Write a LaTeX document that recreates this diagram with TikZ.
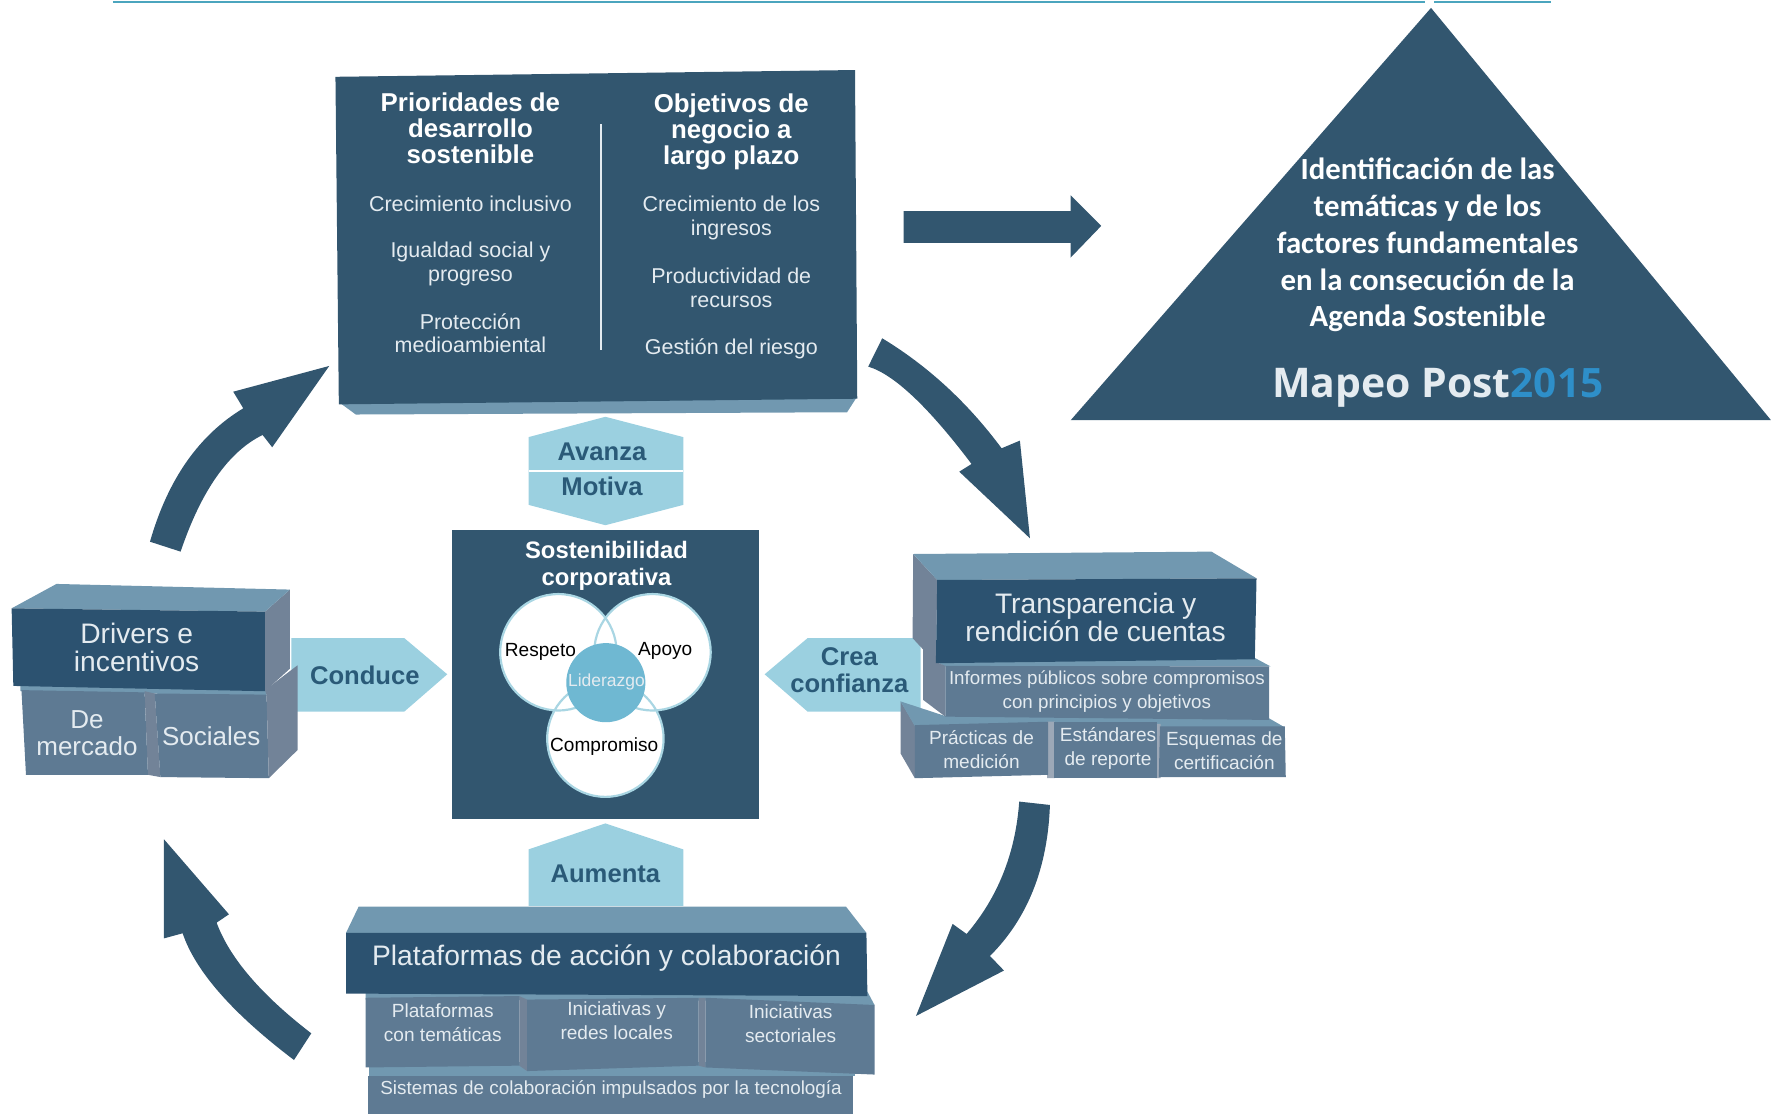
\documentclass[tikz,border=0pt]{standalone}
\usepackage{fontspec}
\setmainfont{Liberation Sans}
\newfontfamily\carl{Carlito}
\newfontfamily\opens{Open Sans}
\definecolor{navy}{HTML}{32566F}
\definecolor{deep}{HTML}{2C5270}
\definecolor{topf}{HTML}{7198B0}
\definecolor{side}{HTML}{728398}
\definecolor{lite}{HTML}{5E7A93}
\definecolor{sky}{HTML}{9BD0E0}
\definecolor{ink}{HTML}{2A5A78}
\definecolor{rim}{HTML}{A9D6E3}
\definecolor{hub}{HTML}{6FB8D2}
\definecolor{paletxt}{HTML}{E4EBF0}
\definecolor{teal}{HTML}{4BA5BE}
\definecolor{blue15}{HTML}{2E8FC9}
\tikzset{
  x=0.01cm,y=-0.01cm,
  txt/.style={inner sep=0pt,align=center,text=paletxt},
  body/.style={txt,font=\fontsize{5.4}{6}\selectfont},
  head/.style={txt,text=white,font=\fontsize{6.5}{6.5}\selectfont\bfseries},
  big/.style={txt,font=\fontsize{7.1}{7.1}\selectfont},
  mid/.style={txt,font=\fontsize{6.55}{6.8}\selectfont},
  small/.style={txt,font=\fontsize{4.8}{6}\selectfont},
  verb/.style={inner sep=0pt,align=center,text=ink,font=\fontsize{6.45}{6.7}\selectfont\bfseries},
  ring/.style={inner sep=0pt,text=black,font=\fontsize{4.8}{5}\selectfont},
  tri/.style={inner sep=0pt,align=center,text=white,font=\carl\fontsize{7.75}{9.25}\selectfont\bfseries},
}
\begin{document}
\begin{tikzpicture}
\useasboundingbox (0,0) rectangle (1568,986.3);
% top rule
\draw[teal,line width=0.55pt] (100,2) -- (1262,2) (1270,2) -- (1373,2);
% triangle
\fill[navy] (1267,7) -- (1568,372) -- (948,372) -- cycle;
\node[tri] (goal) at (1264,217) {Identificación de las\\temáticas y de los\\factores fundamentales\\en la consecución de la\\Agenda Sostenible};
\node[inner sep=0pt,text=paletxt,font=\opens\fontsize{10.3}{11}\selectfont\bfseries] (logo) at (1273,343) {Mapeo Post{\color{blue15}\fontsize{10.2}{11}\selectfont 2015}};
% straight block arrow
\fill[navy] (800,187) -- (948,187) -- (948,173) -- (975,200) -- (948,228) -- (948,215) -- (800,215) -- cycle;
% top box
\fill[topf] (300,356) -- (315,367) -- (750,365) -- (759,351) -- cycle;
\fill[navy] (297,68) -- (757,62) -- (759,353) -- (300,358) -- cycle;
\draw[paletxt,line width=0.35pt] (532,110) -- (532,310);
\node[head] (h1) at (416.5,113.5) {Prioridades de\\desarrollo\\sostenible};
\node[head] (h2) at (647.5,117) {Objetivos de\\negocio a\\largo plazo};
\node[body] (a1) at (416.5,180.5) {Crecimiento inclusivo};
\node[body] (a2) at (416.5,234) {Igualdad social y\\progreso};
\node[body] (a3) at (416.5,295) {Protección\\medioambiental};
\node[body] (b1) at (647.5,193) {Crecimiento de los\\ingresos};
\node[body] (b2) at (647.5,254.5) {Productividad de\\recursos};
\node[body] (b3) at (647.5,308.5) {Gestión del riesgo};
% hexagon
\fill[sky] (536,369) -- (605,387) -- (605,447) -- (536,465) -- (468,447) -- (468,387) -- cycle;
\draw[white,line width=0.35pt] (468,417) -- (605,417);
\node[verb] (av) at (533,400) {Avanza};
\node[verb] (mo) at (533,431) {Motiva};
% centre box
\fill[navy] (400,469) rectangle (672,725);
\node[txt,text=white,font=\fontsize{6.0}{6.6}\selectfont\bfseries] (sc) at (537,501) {Sostenibilidad\\corporativa};
\fill[white] (494.4,577.5) circle[radius=0.515cm] (577.7,577.5) circle[radius=0.515cm] (536,654) circle[radius=0.515cm];
\draw[rim,line width=0.55pt] (494.4,577.5) circle[radius=0.515cm] (577.7,577.5) circle[radius=0.515cm] (536,654) circle[radius=0.515cm];
\fill[hub] (536.4,604.4) circle[radius=0.35cm];
\node[ring] (r) at (478.5,577) {Respeto};
\node[ring] (ap) at (589,576) {Apoyo};
\node[ring] (co) at (535,661) {Compromiso};
\node[ring,text=paletxt,font=\fontsize{4.4}{5}\selectfont] (li) at (537,604) {Liderazgo};
% Conduce
\fill[sky] (258,565) -- (358,565) -- (396,597) -- (358,630) -- (258,630) -- cycle;
\node[verb] (cd) at (323,598) {Conduce};
% Crea confianza
\fill[sky] (815,565) -- (715,565) -- (677,597) -- (715,630) -- (815,630) -- cycle;
\node[verb] (cc) at (752,593.5) {Crea\\confianza};
% Aumenta
\fill[sky] (468,802) -- (468,752) -- (536,729) -- (605,752) -- (605,802) -- cycle;
\node[verb] (au) at (536,774) {Aumenta};
% Drivers block
\fill[topf] (18,606) -- (236,610) -- (236,616) -- (18,612) -- cycle;
\fill[side] (128,612) -- (137,614) -- (142,688) -- (131,686) -- cycle;
\fill[lite] (19,611) -- (128,613) -- (131,686) -- (23,686) -- cycle;
\fill[lite] (137,614) -- (236,615) -- (238,689) -- (142,688) -- cycle;
\fill[side] (234.6,611) -- (263.5,589) -- (263.5,664) -- (238,689) -- (236,615) -- cycle;
\fill[side] (234.6,541.5) -- (256.7,522) -- (256.7,592) -- (234.6,612) -- cycle;
\fill[topf] (10.3,538.6) -- (50,517) -- (256.7,522) -- (234.6,541.5) -- cycle;
\fill[deep] (10.3,538.6) -- (234.6,541.5) -- (234.6,612) -- (11.8,607.3) -- cycle;
\node[big] (dr) at (121,573.5) {Drivers e\\incentivos};
\node[mid] (dm) at (77,649) {De\\mercado};
\node[mid] (so) at (187,652) {Sociales};
% Transparency block
\fill[side] (797.3,621) -- (810,642) -- (810,689) -- (797.3,667) -- cycle;
\fill[topf] (797.3,621) -- (837,634) -- (1123.7,636) -- (1137.5,644) -- (810,643) -- cycle;
\fill[side!70!white] (927,639) rectangle (934,689) (1023,641) rectangle (1027.5,689);
\fill[lite] (810,642) -- (928,639) -- (928,686) -- (810,689) -- cycle;
\fill[lite] (933,639) -- (1024,639) -- (1024,689) -- (933,689) -- cycle;
\fill[lite] (1027,643) -- (1137.5,643) -- (1138.4,688) -- (1026,688) -- cycle;
\fill[topf] (828.6,586) -- (1111,582.5) -- (1124.9,590) -- (837,590) -- cycle;
\fill[side] (817.4,572.5) -- (828.6,586) -- (837,589.6) -- (837,634.5) -- (817.4,619.7) -- cycle;
\fill[lite] (837,589.6) -- (1123.7,590) -- (1123.7,637.4) -- (837,634.5) -- cycle;
\fill[side] (808.5,490.5) -- (829.8,513.5) -- (828.6,587.2) -- (808,565) -- cycle;
\fill[topf] (808.5,490.5) -- (1072.6,488.4) -- (1112.5,512) -- (829.8,513.5) -- cycle;
\fill[deep] (829.8,513.5) -- (1112.5,512) -- (1111,583.7) -- (828.6,587.2) -- cycle;
\node[big] (tr) at (970,546.5) {Transparencia y\\rendición de cuentas};
\node[small,font=\fontsize{4.72}{6}\selectfont] (in) at (980,612) {Informes públicos sobre compromisos\\con principios y objetivos};
\node[small] (pr) at (869,663.5) {Prácticas de\\medición};
\node[small] (es) at (981,663) {Estándares\\de reporte};
\node[small] (eq) at (1084,664.5) {Esquemas de\\certificación};
% Platforms block
\fill[topf] (306.4,825.9) -- (317.5,802.8) -- (749.1,802.8) -- (767.1,825.9) -- cycle;
\fill[topf] (327,940) rectangle (757,953);
\fill[lite] (325.4,952.4) -- (755.4,952.4) -- (755.4,986.3) -- (325.4,986.3) -- cycle;
\fill[topf] (323.8,878) -- (768,878) -- (774.4,890) -- (624,886) -- (323.8,885) -- cycle;
\fill[side] (459.8,881.9) -- (466.7,885) -- (466.7,948.3) -- (459.8,943.5) -- cycle;
\fill[side] (618.5,883.4) -- (624.8,883.4) -- (624.8,945.1) -- (618.5,943.5) -- cycle;
\fill[lite] (323.8,883.4) -- (459.8,881.9) -- (459.8,943.5) -- (323.8,945.1) -- cycle;
\fill[lite] (466.7,885) -- (618.5,883.4) -- (618.5,943.5) -- (466.7,948.3) -- cycle;
\fill[lite] (624.8,883.4) -- (774.4,889.8) -- (774.4,951.4) -- (624.8,945.1) -- cycle;
\fill[deep] (306.4,825.9) -- (767.1,825.9) -- (768,881.9) -- (306.4,879.7) -- cycle;
\node[big] (pl) at (537,848) {Plataformas de acción y colaboración};
\node[small] (p1) at (392,905.5) {Plataformas\\con temáticas};
\node[small] (p2) at (546,903.5) {Iniciativas y\\redes locales};
\node[small] (p3) at (700,906) {Iniciativas\\sectoriales};
\node[small,font=\fontsize{4.75}{6}\selectfont] (p4) at (541,964.5) {Sistemas de colaboración impulsados por la tecnología};
% curved arrows
\fill[navy] (781.1,299.5) .. controls (821.7,324.1) and (856.9,356.6) .. (886.8,396.9) -- (903,390.1) -- (911.9,476.6) -- (849.3,417.6) -- (860.2,410.8) .. controls (821.9,360.1) and (791.4,331.3) .. (768.7,324.6) -- cycle;
\fill[navy] (929.6,712.7) .. controls (927.6,768.5) and (909.9,813.1) .. (876.5,846.4) -- (888.9,859.3) -- (811,899.5) -- (843.4,818) -- (855.8,826.9) .. controls (883.6,794.4) and (899.1,755.3) .. (902.4,709.7) -- cycle;
\fill[navy] (275.6,914.9) .. controls (231.1,880.6) and (203.2,848) .. (191.8,816.9) -- (202.7,809.5) -- (145.2,743.1) -- (145.2,830.8) -- (161.7,826.3) .. controls (173,859.8) and (205.8,897.2) .. (260.3,938.5) -- cycle;
\fill[navy] (132.8,479.6) .. controls (148.5,424.6) and (176,385.2) .. (215.4,361.5) -- (206.5,346.8) -- (291.5,324) -- (241,396) -- (232.5,385.1) .. controls (202.4,399.9) and (178.2,434.3) .. (159.9,488.4) -- cycle;
\end{tikzpicture}
\end{document}
